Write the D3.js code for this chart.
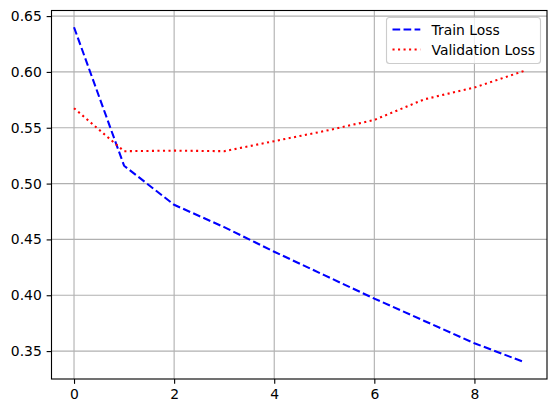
<!DOCTYPE html>
<html><head><meta charset="utf-8">
<script src="https://cdn.jsdelivr.net/npm/d3@7"></script>
<style>body{margin:0;background:#fff}svg{display:block}text{font-family:"DejaVu Sans",sans-serif;}</style>
</head><body>
<svg id="c" width="556" height="413"></svg>
<script>
const epochs = [0,1,2,3,4,5,6,7,8,9];
const trainLoss = [0.640,0.516,0.481,0.461,0.439,0.418,0.397,0.377,0.357,0.340];
const valLoss = [0.5675,0.529,0.5295,0.529,0.538,0.547,0.557,0.5755,0.586,0.601];
const xTicks = [0,2,4,6,8];
const yTicks = [0.35,0.40,0.45,0.50,0.55,0.60,0.65];
const seriesNames = ["Train Loss","Validation Loss"];

const svg = d3.select("#c");
const L = 51.5, R = 547, T = 10.5, B = 379;
const x = d3.scaleLinear().domain([-0.45, 9.45]).range([L, R]);
const y = d3.scaleLinear().domain([0.325, 0.655]).range([B, T]);
const fs = 13.9;

// grid
const g = svg.append("g");
g.selectAll(".gx").data(xTicks).enter().append("line")
  .attr("x1", d=>x(d)).attr("x2", d=>x(d)).attr("y1", T).attr("y2", B)
  .attr("stroke", "#b0b0b0").attr("stroke-width", 1.11);
g.selectAll(".gy").data(yTicks).enter().append("line")
  .attr("y1", d=>y(d)).attr("y2", d=>y(d)).attr("x1", L).attr("x2", R)
  .attr("stroke", "#b0b0b0").attr("stroke-width", 1.11);

// lines
const line = (arr) => d3.line().x((d,i)=>x(epochs[i])).y(d=>y(d))(arr);
svg.append("path").attr("d", line(trainLoss)).attr("fill","none")
  .attr("stroke","#0000ff").attr("stroke-width",2.08).attr("stroke-dasharray","7.7,3.33");
svg.append("path").attr("d", line(valLoss)).attr("fill","none")
  .attr("stroke","#ff0000").attr("stroke-width",2.08).attr("stroke-dasharray","2.08,3.44");

// axes
const xAxis = d3.axisBottom(x).tickValues(xTicks).tickSize(4.86).tickPadding(4.86).tickFormat(d3.format("d"));
const yAxis = d3.axisLeft(y).tickValues(yTicks).tickSize(4.86).tickPadding(4.86).tickFormat(d3.format(".2f"));
const gx = svg.append("g").attr("transform", `translate(0,${B})`).call(xAxis);
const gy = svg.append("g").attr("transform", `translate(${L},0)`).call(yAxis);
[gx, gy].forEach(a => {
  a.select(".domain").remove();
  a.selectAll("line").attr("stroke","#000").attr("stroke-width",1.11);
  a.selectAll("text").attr("font-size", fs).attr("font-family","DejaVu Sans").attr("fill","#000");
});

// spines
svg.append("rect").attr("x",L).attr("y",T).attr("width",R-L).attr("height",B-T)
  .attr("fill","none").attr("stroke","#000").attr("stroke-width",1.11);

// legend
const lg = svg.append("g");
lg.append("rect").attr("x",386.5).attr("y",17.5).attr("width",154).attr("height",46).attr("rx",3)
  .attr("fill","#fff").attr("fill-opacity",0.8).attr("stroke","#cccccc").attr("stroke-width",1.11);
const items = [{n:seriesNames[0], c:"#0000ff", dash:"7.7,3.33", yy:29.5},{n:seriesNames[1], c:"#ff0000", dash:"2.08,3.44", yy:49.5}];
items.forEach(it => {
  lg.append("line").attr("x1",392.5).attr("x2",420.3).attr("y1",it.yy).attr("y2",it.yy)
    .attr("stroke",it.c).attr("stroke-width",2.08).attr("stroke-dasharray",it.dash);
  lg.append("text").attr("x",431.5).attr("y",it.yy).attr("dy","0.36em").attr("font-size",fs).attr("fill","#000").text(it.n);
});
</script>
</body></html>
